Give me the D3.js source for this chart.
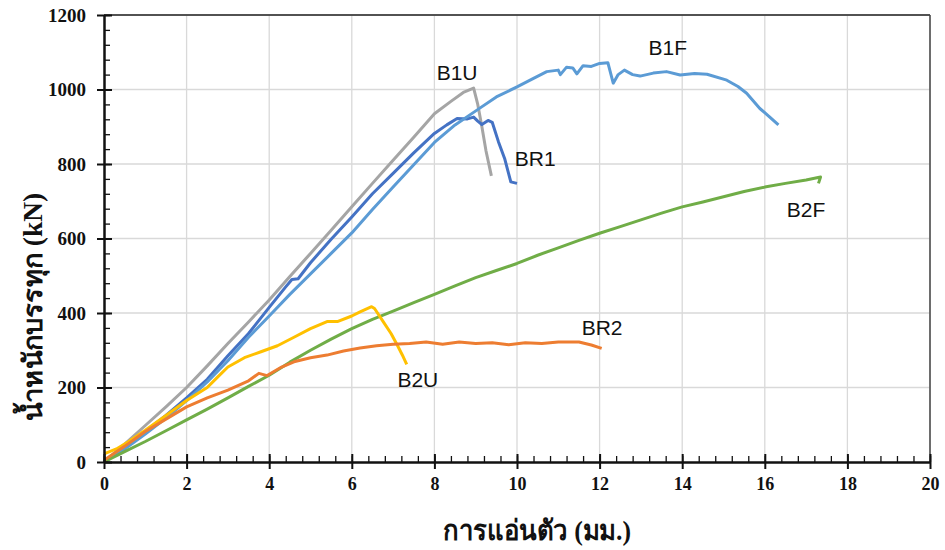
<!DOCTYPE html>
<html>
<head>
<meta charset="utf-8">
<script src="https://cdn.jsdelivr.net/npm/d3@7"></script>
<style>
  body { margin: 0; background: #fff; }
</style>
</head>
<body>
<div id="chart"></div>
<script>
// load-deflection curves (x = deflection mm, y = load kN)
var b1u = [[0,0],[0.5,48],[1,98],[1.5,148],[2,200],[2.5,258],[3,318],[3.5,376],[4,435],[4.5,498],[5,560],[5.5,622],[6,685],[6.5,748],[7,810],[7.5,872],[8,935],[8.4,968],[8.7,992],[8.95,1004],[9.05,960],[9.15,900],[9.25,835],[9.38,768]];
var br1 = [[0,0],[0.5,40],[1,82],[1.5,125],[2,172],[2.5,222],[3,285],[3.5,345],[4,415],[4.4,470],[4.55,490],[4.7,492],[5,535],[5.5,598],[6,658],[6.5,720],[7,775],[7.5,830],[8,882],[8.3,905],[8.55,922],[8.8,921],[8.95,926],[9.05,915],[9.15,906],[9.3,917],[9.4,912],[9.55,860],[9.7,815],[9.85,752],[10.0,748]];
var b1f = [[0,0],[0.5,35],[1,75],[1.5,118],[2,165],[2.5,215],[3,272],[3.5,335],[4,392],[4.5,450],[5,505],[5.5,560],[6,615],[6.5,678],[7,738],[7.5,798],[8,858],[8.5,905],[9.1,950],[9.5,980],[10,1007],[10.4,1030],[10.72,1048],[11,1052],[11.05,1040],[11.2,1060],[11.35,1058],[11.45,1042],[11.6,1064],[11.8,1062],[12.0,1070],[12.2,1072],[12.33,1017],[12.45,1040],[12.6,1052],[12.8,1040],[12.98,1036],[13.3,1044],[13.62,1048],[13.95,1039],[14.3,1043],[14.6,1041],[15.08,1025],[15.35,1008],[15.56,990],[15.88,949],[16.1,928],[16.33,905]];
var b2f = [[0,0],[0.5,28],[1,55],[1.5,84],[2,113],[2.5,142],[3,172],[3.5,203],[4,233],[4.5,268],[5,300],[5.5,330],[6,358],[6.5,383],[7,405],[7.5,428],[8,450],[8.5,473],[9,495],[9.5,514],[10,533],[10.5,555],[11,575],[11.5,595],[12,614],[12.5,632],[13,650],[13.5,668],[14,685],[14.5,698],[15,712],[15.5,726],[16,738],[16.5,748],[17,757],[17.35,765],[17.3,748]];
var b2u = [[0,22],[0.3,35],[0.6,55],[1,85],[1.5,125],[2,165],[2.5,200],[2.75,228],[3,255],[3.4,280],[3.8,296],[4.2,312],[4.6,335],[5,358],[5.4,377],[5.65,377],[6,392],[6.2,403],[6.48,417],[6.55,412],[6.76,377],[6.95,345],[7.1,314],[7.22,288],[7.33,262]];
var br2 = [[0,5],[0.5,42],[1,82],[1.5,115],[2,148],[2.5,172],[3,193],[3.5,218],[3.75,238],[3.95,232],[4.3,255],[4.6,269],[5,280],[5.4,287],[5.8,298],[6.2,306],[6.6,312],[7,316],[7.4,318],[7.8,322],[8.2,316],[8.6,322],[9,318],[9.4,320],[9.8,315],[10.2,320],[10.6,318],[11,322],[11.5,322],[11.8,314],[12.05,305]];

var seriesNames = ["B1U", "BR1", "B1F", "B2F", "B2U", "BR2"];
var seriesData = [b1u, br1, b1f, b2f, b2u, br2];
var seriesColors = ["#A5A5A5", "#4472C4", "#5B9BD5", "#70AD47", "#FFC000", "#ED7D31"];
// where each name sits (text centre, baseline), in data units
var labelAt = [[8.55, 1025], [10.44, 795], [13.65, 1093], [17.0, 658], [7.6, 201], [12.06, 341]];

var xTicks = d3.range(0, 21, 2);
var yTicks = d3.range(0, 1201, 200);
var xMinor = d3.range(0, 51).map(function (i) { return i * 0.4; });
var yMinor = d3.range(0, 1201, 40);

var serifFont = "'Liberation Serif', 'Times New Roman', Times, 'DejaVu Serif', serif";
var sansFont = "'Liberation Sans', Arial, Helvetica, sans-serif";

var margin = {top: 15, right: 15, bottom: 88, left: 104};
var width = 945 - margin.left - margin.right,
    height = 550 - margin.top - margin.bottom;

var svg = d3.select("#chart").append("svg")
    .attr("width", 945)
    .attr("height", 550)
    .append("g")
    .attr("transform", "translate(" + margin.left + "," + margin.top + ")");

var x = d3.scaleLinear().domain([0, 20]).range([0, width]);
var y = d3.scaleLinear().domain([0, 1200]).range([height, 0]);

// grid
svg.append("g").selectAll("line")
    .data(xTicks.slice(1))
    .enter().append("line")
    .attr("x1", function (d) { return x(d); })
    .attr("x2", function (d) { return x(d); })
    .attr("y1", 0).attr("y2", height)
    .attr("stroke", "#d9d9d9").attr("stroke-width", 1.3);

svg.append("g").selectAll("line")
    .data(yTicks.slice(1))
    .enter().append("line")
    .attr("x1", 0).attr("x2", width)
    .attr("y1", function (d) { return y(d); })
    .attr("y2", function (d) { return y(d); })
    .attr("stroke", "#d9d9d9").attr("stroke-width", 1.3);

// frame top / right
svg.append("line").attr("x1", 0).attr("x2", width).attr("y1", 0).attr("y2", 0)
    .attr("stroke", "#222").attr("stroke-width", 1.5);
svg.append("line").attr("x1", width).attr("x2", width).attr("y1", 0).attr("y2", height)
    .attr("stroke", "#444").attr("stroke-width", 1.5);

// curves
var line = d3.line()
    .x(function (d) { return x(d[0]); })
    .y(function (d) { return y(d[1]); });

seriesData.forEach(function (s, i) {
    svg.append("path")
        .datum(s)
        .attr("fill", "none")
        .attr("stroke", seriesColors[i])
        .attr("stroke-width", 3)
        .attr("stroke-linejoin", "round")
        .attr("d", line);
});

// minor ticks pointing inward
svg.append("g")
    .attr("transform", "translate(0," + height + ")")
    .call(d3.axisTop(x).tickValues(xMinor).tickSize(6).tickFormat(""))
    .call(function (g) { g.select(".domain").remove(); g.selectAll("line").attr("stroke", "#111").attr("stroke-width", 1.3); });

svg.append("g")
    .call(d3.axisRight(y).tickValues(yMinor).tickSize(6).tickFormat(""))
    .call(function (g) { g.select(".domain").remove(); g.selectAll("line").attr("stroke", "#111").attr("stroke-width", 1.3); });

// x axis
var xAxis = svg.append("g")
    .attr("transform", "translate(0," + height + ")")
    .call(d3.axisBottom(x).tickValues(xTicks).tickSize(7).tickSizeOuter(0).tickPadding(8).tickFormat(d3.format("d")));
xAxis.select(".domain").attr("stroke", "#111").attr("stroke-width", 2.5);
xAxis.selectAll(".tick line").attr("stroke", "#111").attr("stroke-width", 2).attr("y1", -8);
xAxis.selectAll("text")
    .attr("fill", "#111")
    .style("font-family", serifFont)
    .style("font-weight", "bold")
    .style("font-size", "18px");

// y axis
var yAxis = svg.append("g")
    .call(d3.axisLeft(y).tickValues(yTicks).tickSize(7).tickSizeOuter(0).tickPadding(11).tickFormat(d3.format("d")));
yAxis.select(".domain").attr("stroke", "#111").attr("stroke-width", 2.5);
yAxis.selectAll(".tick line").attr("stroke", "#111").attr("stroke-width", 2).attr("x1", 8);
yAxis.selectAll("text")
    .attr("fill", "#111")
    .style("font-family", serifFont)
    .style("font-weight", "bold")
    .style("font-size", "19px");

// curve names
svg.selectAll(".curve-label")
    .data(seriesNames)
    .enter().append("text")
    .attr("class", "curve-label")
    .attr("text-anchor", "middle")
    .attr("x", function (d, i) { return x(labelAt[i][0]); })
    .attr("y", function (d, i) { return y(labelAt[i][1]); })
    .style("font-family", sansFont)
    .style("font-size", "21px")
    .attr("fill", "#111")
    .text(function (d) { return d; });

// axis titles
svg.append("text")
    .attr("text-anchor", "middle")
    .attr("x", 433)
    .attr("y", height + 78)
    .attr("textLength", 188)
    .attr("lengthAdjust", "spacingAndGlyphs")
    .style("font-family", serifFont)
    .style("font-weight", "bold")
    .style("font-size", "28px")
    .attr("fill", "#111")
    .text("การแอ่นตัว (มม.)");

svg.append("text")
    .attr("text-anchor", "middle")
    .attr("transform", "translate(" + (-62) + "," + 292 + ") rotate(-90)")
    .attr("textLength", 228)
    .attr("lengthAdjust", "spacingAndGlyphs")
    .style("font-family", serifFont)
    .style("font-weight", "bold")
    .style("font-size", "27px")
    .attr("fill", "#111")
    .text("น้ำหนักบรรทุก (kN)");
</script>
</body>
</html>
